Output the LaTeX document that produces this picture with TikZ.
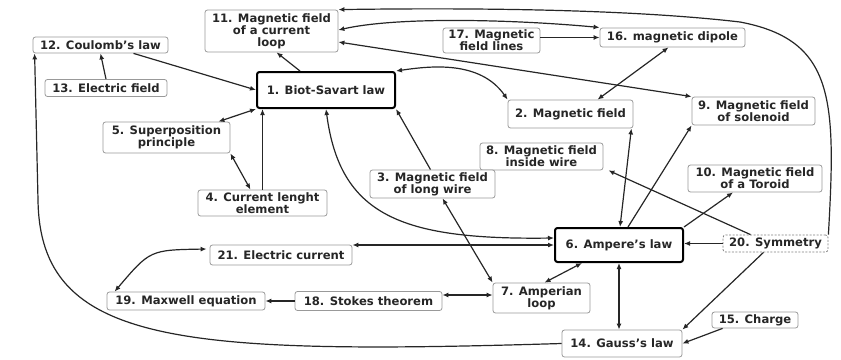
\documentclass[tikz,border=0pt]{standalone}
\usepackage{fontspec}
\setmainfont{DejaVu Sans}
\usetikzlibrary{arrows.meta}

\tikzset{
  concept/.style={draw=black!40, line width=0.8pt, rounded corners=2.5pt, fill=white,
    align=center, inner sep=1pt, text=black!85,
    font=\fontsize{11.6}{12}\selectfont\bfseries},
  keylaw/.style={concept, draw=black, line width=2pt},
  dashedbox/.style={concept, draw=black!50, dash pattern=on 2pt off 1.5pt},
  link/.style={line width=1.2pt, draw=black!85, -{Latex[length=6pt,width=5pt]}},
  bilink/.style={link, {Latex[length=6pt,width=5pt]}-{Latex[length=6pt,width=5pt]}},
}

\begin{document}
\begin{tikzpicture}[x=1pt, y=-1pt]
\useasboundingbox (0,0) rectangle (841,359);

% concepts
\node[concept, minimum width=133pt, minimum height=42pt] (n11) at (271.5,31) {11. Magnetic field\\of a current\\loop};
\node[concept, minimum width=135pt, minimum height=16pt] (n12) at (100.5,45) {12. Coulomb's law};
\node[concept, minimum width=122pt, minimum height=17pt] (n13) at (106,88) {13. Electric field};
\node[keylaw,  minimum width=138pt, minimum height=36pt] (n1) at (326,90) {1. Biot-Savart law};
\node[concept, minimum width=97pt,  minimum height=25pt] (n17) at (491.5,40.5) {17. Magnetic\\field lines};
\node[concept, minimum width=145pt, minimum height=19pt] (n16) at (672.5,37.5) {16. magnetic dipole};
\node[concept, minimum width=125pt, minimum height=28pt] (n2) at (570.5,114) {2. Magnetic field};
\node[concept, minimum width=123pt, minimum height=28pt] (n9) at (753.5,111) {9. Magnetic field\\of solenoid};
\node[concept, minimum width=127pt, minimum height=31pt] (n5) at (166.5,137.5) {5. Superposition\\principle};
\node[concept, minimum width=123pt, minimum height=27pt] (n8) at (541.5,156.5) {8. Magnetic field\\inside wire};
\node[concept, minimum width=125pt, minimum height=28pt] (n3) at (432.5,184) {3. Magnetic field\\of long wire};
\node[concept, minimum width=134pt, minimum height=27pt] (n10) at (755,178.5) {10. Magnetic field\\of a Toroid};
\node[concept, minimum width=129pt, minimum height=26pt] (n4) at (262.5,203) {4. Current lenght\\element};
\node[concept, minimum width=142pt, minimum height=20pt] (n21) at (281,255) {21. Electric current};
\node[keylaw,  minimum width=128pt, minimum height=34pt] (n6) at (619,245) {6. Ampere's law};
\node[dashedbox, minimum width=105pt, minimum height=17pt] (n20) at (775.5,243.5) {20. Symmetry};
\node[concept, minimum width=158pt, minimum height=18pt] (n19) at (186,301) {19. Maxwell equation};
\node[concept, minimum width=147pt, minimum height=19pt] (n18) at (368.5,301) {18. Stokes theorem};
\node[concept, minimum width=97pt,  minimum height=30pt] (n7) at (541.5,298) {7. Amperian\\loop};
\node[concept, minimum width=86pt,  minimum height=16pt] (n15) at (755,320) {15. Charge};
\node[concept, minimum width=120pt, minimum height=27pt] (n14) at (622,343.5) {14. Gauss's law};

% links
\draw[link] (n13.north) -- (n12.south);
\draw[link] ([xshift=33pt]n12.south) -- (n1.west);
\draw[link] ([xshift=-26pt]n1.north) -- ([xshift=5pt]n11.south);
\draw[bilink] ([xshift=-12pt]n5.north east) -- (n1.south west);
\draw[bilink] ([xshift=-12pt]n4.north) -- (n5.south east);
\draw[link] (n4.north) -- (n4.north |- n1.south);
\draw[link] ([xshift=-2pt]n3.north) -- (n1.south east);
\draw[bilink] (n1.south) .. controls (340,215) and (400,240) .. ([yshift=7pt]n6.west);
\draw[bilink] (n6.west) -- (n6.west -| n21.east);
\draw[bilink] ([xshift=-3pt,yshift=6pt]n21.west) .. controls (150,250) .. ([xshift=8pt]n19.north west);
\draw[link] (n18.west) -- (n19.east);
\draw[bilink] ([yshift=6pt]n18.east) -- ([yshift=6pt]n18.east -| n7.west);
\draw[bilink] ([xshift=10pt]n3.south) -- (n7.north west);
\draw[bilink] ([xshift=3pt]n7.north) -- ([xshift=-37pt]n6.south);
\draw[bilink] (n6.south) -- (n6.south |- n14.north);
\draw[link] (n20.west) -- (n20.west -| n6.east);
\draw[link] ([xshift=-12pt]n20.south) -- (n14.north east);
\draw[link] ([xshift=11pt]n15.south west) -- (n14.east);
\draw[link] ([xshift=-25pt]n20.north) -- ([xshift=5pt]n8.south east);
\draw[link] (n6.north east) -- ([xshift=-22pt]n10.south);
\draw[link] ([xshift=9pt]n6.north) -- (n9.south west);
\draw[bilink] ([xshift=-2pt]n2.south east) -- ([xshift=1pt]n6.north);
\draw[bilink] ([xshift=27pt]n2.north) -- ([xshift=-4pt]n16.south);
\draw[link] (n16.west -| n17.east) -- (n16.west);
\draw[bilink] ([yshift=1pt]n11.east) .. controls (400,16) and (520,20) .. ([yshift=10pt]n16.west);
\draw[bilink] ([yshift=-11pt]n11.east) -- (n9.north west);
\draw[bilink] (n1.north east) .. controls (430,66) and (480,60) .. (n2.north west);
\draw[link] (n20.north east) .. controls (836,100) and (835,40) .. (740,22)
  .. controls (620,8) and (450,8) .. (n11.north east);
\draw[link] (n14.west) .. controls (180,355) and (40,345) .. (38,200)
  -- ([xshift=2pt]n12.south west);
\end{tikzpicture}
\end{document}
